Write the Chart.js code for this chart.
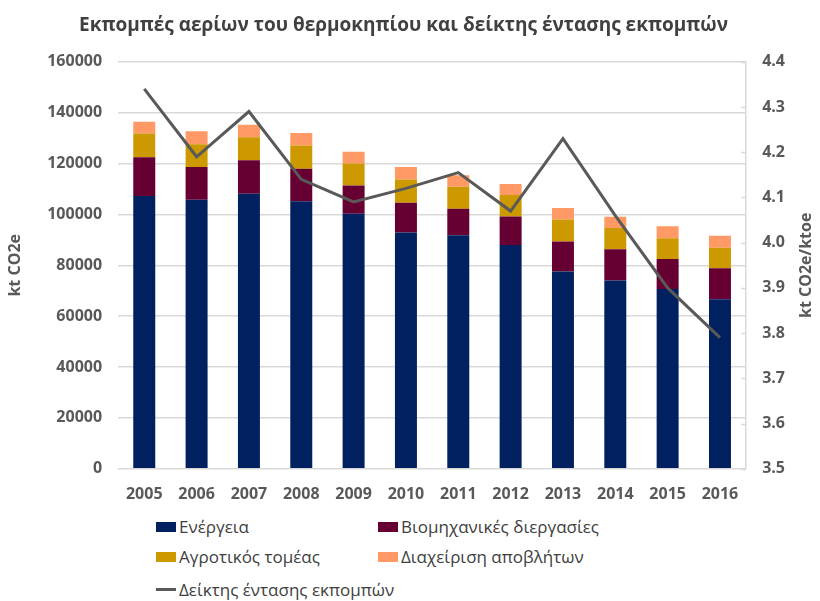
<!DOCTYPE html>
<html>
<head>
<meta charset="utf-8">
<script src="https://cdn.jsdelivr.net/npm/chart.js@4.4.0/dist/chart.umd.min.js"></script>
<style>
  html, body { margin: 0; padding: 0; background: #fff; }
  body { width: 820px; height: 601px; position: relative; overflow: hidden; font-family: 'Open Sans', sans-serif; }
  #wrap { position: absolute; left: 0; top: 0; width: 820px; height: 514px; }
  #legend { position: absolute; left: 156px; top: 515px; width: 620px; color: #404040; font-size: 17px; }
  .lg-item { position: absolute; display: flex; align-items: center; white-space: nowrap; }
  .lg-box { width: 20px; height: 10px; margin-right: 3px; }
  .lg-line { width: 20px; height: 3px; margin-right: 3px; }
</style>
</head>
<body>
<div id="wrap"><canvas id="chart"></canvas></div>
<div id="legend"></div>
<script>
// ── DATA ───────────────────────────────────────────────────
const years      = ['2005','2006','2007','2008','2009','2010','2011','2012','2013','2014','2015','2016'];
const energy     = [107200,105800,108100,105200,100300, 92900, 91800, 88000, 77600, 74000, 70700, 66700];
const industry   = [ 15300, 12800, 13200, 12800, 11100, 11700, 10400, 11200, 11800, 12300, 11800, 12100];
const agriculture= [  9300,  9000,  9000,  9100,  8600,  9100,  8700,  8400,  8600,  8400,  8100,  8100];
const waste      = [  4600,  5100,  5000,  4900,  4600,  4900,  4500,  4400,  4500,  4400,  4800,  4700];
const intensity  = [ 4.34, 4.19, 4.29, 4.14, 4.09, 4.12, 4.155, 4.07, 4.23, 4.06, 3.90, 3.79];

const leftTicks  = [0, 160000, 20000];   // min, max, step
const rightTicks = [3.5, 4.4, 0.1];

const TXT = '#595959';
const GRID = '#d9d9d9';

// ── RIGHT AXIS EXTRAS: inward tick marks + bottom-to-top title ─
const rightAxisExtras = {
  id: 'rightAxisExtras',
  afterDraw(chart) {
    const { ctx, chartArea } = chart;
    const s = chart.scales.y1;
    ctx.save();
    ctx.strokeStyle = GRID;
    ctx.lineWidth = 1.5;
    s.ticks.forEach(t => {
      const y = Math.round(s.getPixelForValue(t.value)) + 0.5;
      ctx.beginPath();
      ctx.moveTo(s.left - 5, y);
      ctx.lineTo(s.left, y);
      ctx.stroke();
    });
    ctx.translate(806, (chartArea.top + chartArea.bottom) / 2);
    ctx.rotate(-Math.PI / 2);
    ctx.fillStyle = TXT;
    ctx.font = 'bold 16px "Open Sans"';
    ctx.textAlign = 'center';
    ctx.textBaseline = 'middle';
    ctx.fillText('kt CO2e/ktoe', 0, 0);
    ctx.restore();
  }
};

const bar = (label, data, color) => ({
  type: 'bar', label, data, backgroundColor: color,
  stack: 's', order: 1, yAxisID: 'y',
  barPercentage: 0.42, categoryPercentage: 1.0
});

const chart = new Chart(document.getElementById('chart'), {
  data: {
    labels: years,
    datasets: [
      {
        type: 'line', label: 'Δείκτης έντασης εκπομπών', data: intensity,
        borderColor: '#595959', backgroundColor: '#595959', borderWidth: 3,
        pointRadius: 0, tension: 0, order: 0, yAxisID: 'y1'
      },
      bar('Ενέργεια', energy, '#002060'),
      bar('Βιομηχανικές διεργασίες', industry, '#660033'),
      bar('Αγροτικός τομέας', agriculture, '#cc9900'),
      bar('Διαχείριση αποβλήτων', waste, '#ff9966')
    ]
  },
  options: {
    responsive: true,
    maintainAspectRatio: false,
    animation: false,
    layout: { padding: { left: 6, right: 19, top: 8, bottom: 2 } },
    plugins: {
      legend: { display: false },
      tooltip: { enabled: false },
      title: {
        display: true,
        text: 'Εκπομπές αερίων του θερμοκηπίου και δείκτης έντασης εκπομπών',
        color: '#404040',
        font: { family: 'Open Sans', size: 19, weight: 'bold' },
        padding: { top: 6, bottom: 25 }
      }
    },
    scales: {
      x: {
        stacked: true,
        grid: { display: false },
        border: { display: false },
        ticks: { color: TXT, font: { family: 'Open Sans', size: 16, weight: 'bold' }, padding: 8 }
      },
      y: {
        stacked: true,
        position: 'left',
        min: leftTicks[0], max: leftTicks[1],
        ticks: { stepSize: leftTicks[2], color: TXT, padding: 16,
                 font: { family: 'Open Sans', size: 16, weight: 'bold' },
                 callback: v => String(v) },
        grid: { color: GRID, lineWidth: 1.5, drawTicks: false },
        border: { display: false },
        title: { display: true, text: 'kt CO2e', color: TXT, padding: { top: 0, bottom: 6 },
                 font: { family: 'Open Sans', size: 16, weight: 'bold' } }
      },
      y1: {
        position: 'right',
        min: rightTicks[0], max: rightTicks[1],
        ticks: { stepSize: rightTicks[2], color: TXT, padding: 16,
                 font: { family: 'Open Sans', size: 16, weight: 'bold' },
                 callback: v => v.toFixed(1) },
        grid: { drawOnChartArea: false, drawTicks: false },
        border: { display: true, color: GRID, width: 1.5 }
      }
    }
  },
  plugins: [rightAxisExtras]
});

// ── HTML LEGEND ─────────────────────────────────────────────
(function buildLegend() {
  const el = document.getElementById('legend');
  const spots = {
    'Ενέργεια': [0, 0],
    'Βιομηχανικές διεργασίες': [222, 0],
    'Αγροτικός τομέας': [0, 30],
    'Διαχείριση αποβλήτων': [222, 30],
    'Δείκτης έντασης εκπομπών': [0, 63]
  };
  chart.data.datasets.forEach(ds => {
    const [x, y] = spots[ds.label];
    const item = document.createElement('div');
    item.className = 'lg-item';
    item.style.left = x + 'px';
    item.style.top = y + 'px';
    const mark = document.createElement('span');
    mark.className = ds.type === 'line' ? 'lg-line' : 'lg-box';
    mark.style.background = ds.type === 'line' ? ds.borderColor : ds.backgroundColor;
    const txt = document.createElement('span');
    txt.textContent = ds.label;
    item.appendChild(mark);
    item.appendChild(txt);
    el.appendChild(item);
  });
})();
</script>
</body>
</html>
